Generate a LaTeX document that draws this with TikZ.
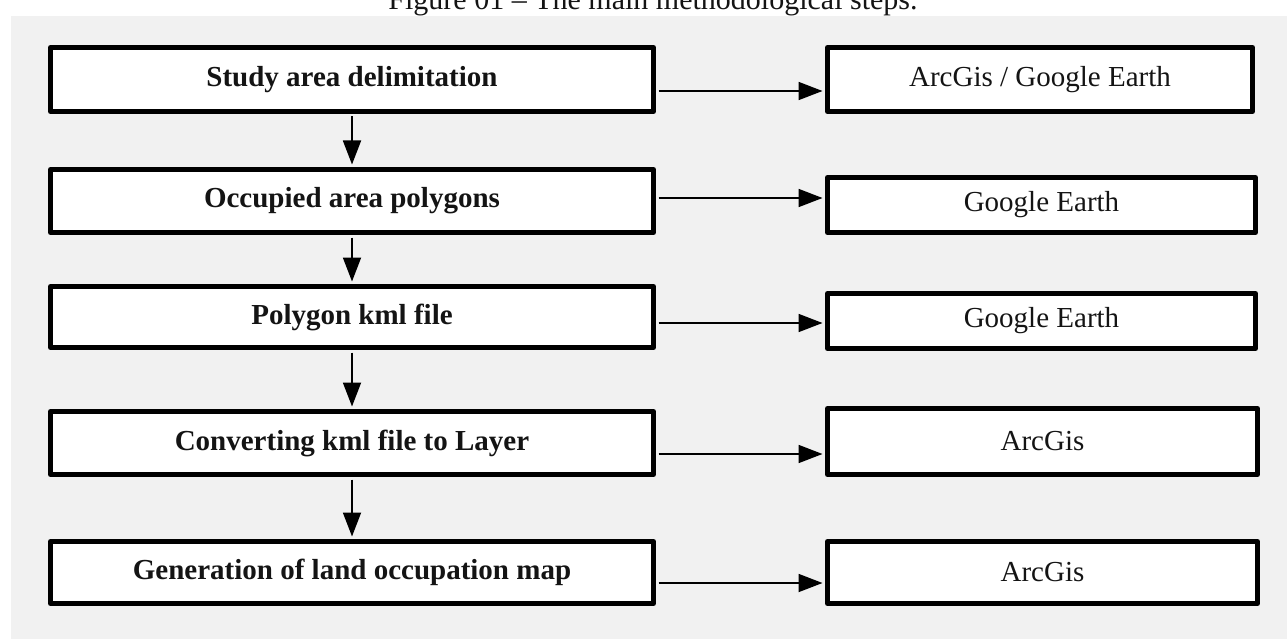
\documentclass[tikz,border=0pt]{standalone}
\usepackage{fontspec}
\newfontfamily\boxfont{Liberation Serif}
\usetikzlibrary{arrows.meta}
\definecolor{bggray}{RGB}{241,241,241}
\definecolor{ink}{RGB}{20,20,20}
\begin{document}
\begin{tikzpicture}[x=1pt,y=-1pt,
  stepbox/.style={draw=black, line width=5pt, fill=white, line join=round,
    inner sep=0pt, text=ink, font=\boxfont\fontsize{29}{34}\selectfont},
  lbox/.style={stepbox, minimum width=603pt,
    font=\boxfont\bfseries\fontsize{29}{34}\selectfont},
  rbox/.style={stepbox},
  arr/.style={line width=1.8pt, -{Triangle[length=24pt,width=18pt]},
    shorten <=2.5pt, shorten >=2.5pt}
]
\useasboundingbox (0,0) rectangle (1287,639);
\fill[bggray] (11,16) rectangle (1287,639);
\node[anchor=base, text=ink, font=\boxfont\fontsize{30}{34}\selectfont] (title) at (653,10)
  {Figure 01 \textendash{} The main methodological steps.};

% left column
\node[lbox, minimum height=64pt] (L1) at (352,79.5) {Study area delimitation};
\node[lbox, minimum height=63pt] (L2) at (352,201) {Occupied area polygons};
\node[lbox, minimum height=61pt] (L3) at (352,317) {Polygon kml file};
\node[lbox, minimum height=63pt] (L4) at (352,443) {Converting kml file to Layer};
\node[lbox, minimum height=62pt] (L5) at (352,572.5) {Generation of land occupation map};

% right column
\node[rbox, minimum width=425pt, minimum height=64pt] (R1) at (1040,79.5) {ArcGis / Google Earth};
\node[rbox, minimum width=428pt, minimum height=55pt] (R2) at (1041.5,205) {Google Earth};
\node[rbox, minimum width=428pt, minimum height=55pt] (R3) at (1041.5,321) {Google Earth};
\node[rbox, minimum width=430pt, minimum height=66pt] (R4) at (1042.5,441.5) {ArcGis};
\node[rbox, minimum width=430pt, minimum height=62pt] (R5) at (1042.5,572.5) {ArcGis};

% arrow heights
\coordinate (h1) at (0,91);
\coordinate (h2) at (0,198);
\coordinate (h3) at (0,323);
\coordinate (h4) at (0,454);
\coordinate (h5) at (0,583);

\draw[arr] (L1.east |- h1) -- (R1.west |- h1);
\draw[arr] (L2.east |- h2) -- (R2.west |- h2);
\draw[arr] (L3.east |- h3) -- (R3.west |- h3);
\draw[arr] (L4.east |- h4) -- (R4.west |- h4);
\draw[arr] (L5.east |- h5) -- (R5.west |- h5);

\draw[arr] (L1) -- (L2);
\draw[arr] (L2) -- (L3);
\draw[arr] (L3) -- (L4);
\draw[arr] (L4) -- (L5);
\end{tikzpicture}
\end{document}
